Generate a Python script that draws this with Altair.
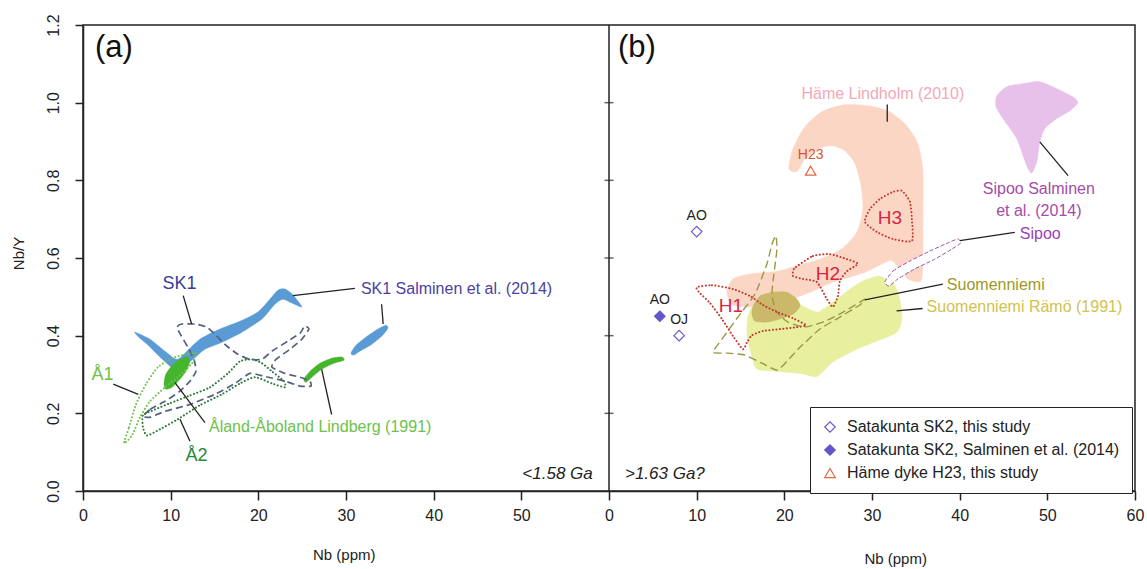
import altair as alt
import pandas as pd

FONT = "Liberation Sans"
PANEL_B = 60  # panel (b) sits right of panel (a) on one shared 0-120 Nb axis

# ---------------- Panel (a): <1.58 Ga ----------------
sk1_sal_main_x = [5.93, 7.64, 9.35, 10.72, 11.86, 13.34, 15.62, 17.90, 19.95, 21.32, 22.23, 23.03, 23.95,
                  24.97, 23.83, 22.81, 21.89, 20.41, 18.13, 15.85, 13.91, 12.54, 11.06, 10.15, 8.78, 7.41, 6.27]
sk1_sal_main_y = [0.409, 0.391, 0.360, 0.339, 0.360, 0.391, 0.417, 0.437, 0.461, 0.494, 0.517, 0.520, 0.505,
                  0.474, 0.484, 0.494, 0.481, 0.443, 0.409, 0.383, 0.365, 0.339, 0.316, 0.318, 0.345, 0.376, 0.398]
sk1_sal_small_x = [30.56, 31.13, 32.27, 33.64, 34.55, 34.78, 34.09, 32.95, 31.58, 30.90]
sk1_sal_small_y = [0.355, 0.375, 0.396, 0.417, 0.427, 0.419, 0.399, 0.378, 0.360, 0.350]
lind_1_x = [9.24, 9.46, 10.26, 11.06, 11.86, 12.20, 11.74, 10.95, 10.15, 9.46]
lind_1_y = [0.275, 0.301, 0.326, 0.339, 0.345, 0.334, 0.308, 0.285, 0.267, 0.262]
lind_2_x = [25.20, 25.88, 27.02, 28.39, 29.53, 29.76, 28.62, 27.25, 26.11, 25.43]
lind_2_y = [0.288, 0.308, 0.329, 0.342, 0.345, 0.337, 0.329, 0.314, 0.293, 0.280]
sk1_x = [6.84, 7.64, 9.35, 11.06, 12.20, 12.88, 12.66, 11.97, 11.17, 10.72, 11.29, 12.77, 14.14, 15.17, 16.31,
         17.67, 19.04, 20.41, 21.55, 23.38, 24.74, 25.31, 25.77, 24.97, 23.60, 22.01, 21.55, 23.03, 24.74, 25.88,
         26.00, 24.74, 23.03, 20.75, 19.04, 17.33, 15.05, 12.20, 9.35, 7.64]
sk1_y = [0.192, 0.210, 0.231, 0.257, 0.283, 0.308, 0.339, 0.370, 0.401, 0.422, 0.430, 0.430, 0.422, 0.401, 0.375,
         0.352, 0.339, 0.339, 0.360, 0.386, 0.406, 0.425, 0.417, 0.391, 0.365, 0.339, 0.319, 0.303, 0.293, 0.283,
         0.270, 0.270, 0.283, 0.295, 0.303, 0.277, 0.249, 0.223, 0.205, 0.190]
a1_x = [4.68, 5.25, 6.04, 7.18, 8.55, 10.15, 11.74, 12.88, 12.43, 11.06, 9.35, 7.64, 6.50, 5.59]
a1_y = [0.123, 0.164, 0.223, 0.275, 0.319, 0.342, 0.352, 0.355, 0.329, 0.298, 0.267, 0.231, 0.190, 0.143]
a2_x = [6.84, 8.21, 9.92, 12.20, 14.48, 16.53, 17.90, 19.27, 20.41, 21.55, 22.92, 23.03, 21.55, 19.61, 17.90,
        15.85, 13.34, 10.83, 8.78, 7.30, 6.84]
a2_y = [0.195, 0.210, 0.226, 0.246, 0.267, 0.303, 0.334, 0.339, 0.329, 0.308, 0.283, 0.267, 0.277, 0.293, 0.277,
        0.249, 0.221, 0.185, 0.159, 0.143, 0.164]

# ---------------- Panel (b): >1.63 Ga? ----------------
hame_x = [20.52, 20.98, 22.35, 24.29, 26.91, 29.53, 31.81, 33.87, 35.23, 35.80, 35.80, 35.80, 35.58, 34.09, 32.38,
          31.36, 29.30, 27.02, 25.20, 23.49, 21.44, 18.59, 15.85, 13.91, 13.45, 14.14, 16.08, 19.16, 21.78, 24.40,
          26.68, 28.28, 28.96, 28.73, 28.05, 26.91, 25.43, 23.83, 22.35, 21.44]
hame_y = [0.830, 0.881, 0.938, 0.977, 0.995, 0.992, 0.979, 0.943, 0.894, 0.825, 0.701, 0.592, 0.541, 0.546, 0.592,
          0.587, 0.564, 0.548, 0.535, 0.517, 0.499, 0.481, 0.474, 0.481, 0.515, 0.546, 0.559, 0.566, 0.582, 0.600,
          0.626, 0.667, 0.726, 0.788, 0.843, 0.876, 0.889, 0.881, 0.855, 0.823]
ramo_x = [15.85, 15.74, 16.31, 16.88, 19.16, 21.78, 23.72, 25.54, 28.28, 30.56, 32.84, 33.41, 33.18, 32.38, 31.13,
          30.56, 28.96, 27.48, 26.00, 24.40, 23.72, 22.12, 20.64, 19.16, 17.56, 16.42]
ramo_y = [0.450, 0.399, 0.347, 0.314, 0.308, 0.303, 0.295, 0.332, 0.365, 0.386, 0.409, 0.443, 0.494, 0.538, 0.551,
          0.553, 0.541, 0.520, 0.494, 0.468, 0.461, 0.476, 0.499, 0.512, 0.502, 0.476]
overlap_x = [16.42, 17.22, 18.70, 20.30, 21.44, 21.78, 20.98, 19.50, 18.02, 16.65, 16.31]
overlap_y = [0.476, 0.502, 0.512, 0.512, 0.494, 0.476, 0.455, 0.443, 0.435, 0.437, 0.455]
sipoo_sal_x = [44.24, 45.38, 47.21, 49.14, 51.08, 52.91, 53.48, 52.57, 51.08, 49.71, 49.14, 48.80, 48.23, 47.66,
               46.52, 44.93, 44.13]
sipoo_sal_y = [1.018, 1.041, 1.049, 1.054, 1.036, 1.015, 1.000, 0.979, 0.959, 0.933, 0.899, 0.848, 0.819, 0.837,
               0.907, 0.959, 0.990]
sipoo_x = [31.47, 32.38, 34.32, 36.60, 38.88, 39.79, 40.14, 39.11, 37.17, 34.89, 32.95, 31.93]
sipoo_y = [0.538, 0.566, 0.592, 0.618, 0.641, 0.649, 0.639, 0.623, 0.597, 0.572, 0.546, 0.528]
suom_x = [11.86, 12.88, 14.71, 16.65, 18.02, 18.59, 19.04, 19.16, 18.81, 18.59, 19.04, 20.41, 22.35, 24.63, 26.91,
          29.19, 28.62, 26.34, 24.06, 21.78, 20.30, 19.16, 17.45, 15.51, 13.57]
suom_y = [0.357, 0.391, 0.448, 0.507, 0.585, 0.636, 0.657, 0.623, 0.559, 0.507, 0.463, 0.435, 0.422, 0.437, 0.463,
          0.494, 0.479, 0.448, 0.417, 0.370, 0.334, 0.311, 0.329, 0.350, 0.355]
h1_x = [10.03, 11.74, 14.14, 16.08, 17.56, 19.16, 20.98, 22.46, 21.44, 19.50, 17.56, 16.31, 15.74, 15.28, 14.14,
        12.88, 11.52, 10.26]
h1_y = [0.525, 0.530, 0.520, 0.502, 0.479, 0.461, 0.445, 0.427, 0.422, 0.417, 0.412, 0.401, 0.383, 0.365, 0.399,
        0.443, 0.484, 0.512]
h2_x = [21.44, 23.26, 25.20, 27.14, 28.39, 27.14, 26.34, 26.11, 25.54, 24.86, 23.72, 22.12, 20.98, 21.09]
h2_y = [0.579, 0.605, 0.610, 0.597, 0.585, 0.566, 0.541, 0.502, 0.474, 0.494, 0.538, 0.546, 0.554, 0.572]
h3_x = [33.41, 34.32, 34.55, 34.55, 32.38, 30.56, 29.19, 29.76, 30.90, 32.38]
h3_y = [0.773, 0.745, 0.701, 0.644, 0.649, 0.667, 0.693, 0.726, 0.752, 0.770]

# samples (panel b)
pt_series = ["Satakunta SK2, this study", "Satakunta SK2, this study",
             "Satakunta SK2, Salminen et al. (2014)", "Häme dyke H23, this study"]
pt_x = [10.0, 8.0, 5.8, 23.0]
pt_y = [0.668, 0.400, 0.450, 0.825]
pt_label = ["AO", "OJ", "AO", "H23"]
pt_label_color = ["#222222", "#222222", "#222222", "#d9562f"]
legend_order = ["Satakunta SK2, this study", "Satakunta SK2, Salminen et al. (2014)", "Häme dyke H23, this study"]

# leader lines
lead_x1 = [11.43, 23.95, 34.06, 3.45, 12.20, 13.91, 27.22, 31.74, 49.14, 40.02, 29.19, 32.80]
lead_y1 = [0.503, 0.503, 0.481, 0.275, 0.128, 0.176, 0.314, 0.995, 0.899, 0.645, 0.492, 0.464]
lead_x2 = [12.39, 31.01, 34.24, 6.31, 11.06, 10.49, 28.36, 31.74, 52.37, 46.29, 38.08, 35.77]
lead_y2 = [0.430, 0.522, 0.430, 0.249, 0.185, 0.279, 0.197, 0.951, 0.812, 0.666, 0.533, 0.470]
lead_panel = ["a", "a", "a", "a", "a", "a", "a", "b", "b", "b", "b", "b"]

# text annotations
ann_text = ["SK1", "SK1 Salminen et al. (2014)", "Å1", "Å2", "Åland-Åboland Lindberg (1991)", "(a)",
            "Häme Lindholm (2010)", "H1", "H2", "H3", "Sipoo Salminen", "et al. (2014)", "Sipoo",
            "Suomenniemi", "Suomenniemi Rämö (1991)", "(b)"]
ann_x = [11.0, 31.7, 2.22, 12.94, 14.37, 1.37, 31.24, 13.91, 24.97, 32.04, 49.03, 49.03, 46.86, 38.54, 36.23, 1.03]
ann_y = [0.533, 0.520, 0.299, 0.090, 0.164, 1.142, 1.023, 0.476, 0.559, 0.703, 0.778, 0.721, 0.662, 0.530, 0.473, 1.142]
ann_panel = ["a", "a", "a", "a", "a", "a", "b", "b", "b", "b", "b", "b", "b", "b", "b", "b"]
ann_color = ["#3d3a99", "#4b42a0", "#6cc24a", "#1e8a3c", "#6cc24a", "#111111", "#f4a9b8", "#d7263d", "#d7263d",
             "#d7263d", "#a54ca6", "#a54ca6", "#9b3fb5", "#9c9a22", "#d2c24e", "#111111"]
ann_size = [18, 16, 18, 18, 16, 31, 16, 19, 19, 19, 16, 16, 16, 16, 16, 31]
ann_align = ["center", "left", "center", "center", "left", "left", "center", "center", "center", "center",
             "center", "center", "left", "left", "left", "left"]

age_text = ["<1.58 Ga", ">1.63 Ga?"]
age_x = [58.15, 1.82]
age_y = [0.045, 0.045]
age_panel = ["a", "b"]
age_align = ["right", "left"]

xtitle_x = [29.8, 32.7]
xtitle_y = [-0.166, -0.176]
xtitle_panel = ["a", "b"]

y_ticks = [0.0, 0.2, 0.4, 0.6, 0.8, 1.0, 1.2]
mid_ticks = [0.2, 0.4, 0.6, 0.8, 1.0]
divider_x = [PANEL_B]
divider_y = [0.0]
divider_y2 = [1.2]

# ---------------- scales / axes ----------------
xscale = alt.Scale(domain=[0, 120], nice=False, zero=False)
yscale = alt.Scale(domain=[0, 1.2], nice=False, zero=False)
xaxis = alt.Axis(values=list(range(0, 121, 10)), labelExpr="datum.value >= 60 ? datum.value - 60 : datum.value",
                 title=None, grid=False, tickSize=9, tickWidth=1.5, tickColor="#222", domainColor="#222",
                 domainWidth=1.5, labelFontSize=16, labelFont=FONT, labelColor="#222", labelPadding=7,
                 labelFlush=False, labelOverlap=False)
yaxis = alt.Axis(values=y_ticks, format=".1f", title="Nb/Y", grid=False, tickSize=8, tickWidth=1.5,
                 tickColor="#222", domainColor="#222", domainWidth=1.5, labelFontSize=16, labelFont=FONT,
                 labelColor="#222", labelAngle=-90, labelAlign="center", labelBaseline="alphabetic",
                 labelPadding=17, labelFlush=False, labelOverlap=False, titleFont=FONT, titleFontSize=15,
                 titleFontWeight="normal", titleColor="#222", titleAngle=-90, titleAlign="center",
                 titleBaseline="alphabetic", titleX=-60, titleY=228)


def X(f="x"):
    return alt.X(f"{f}:Q", scale=xscale, axis=xaxis)


def Y(f="y"):
    return alt.Y(f"{f}:Q", scale=yscale, axis=yaxis)


def off(panel):
    return PANEL_B if panel == "b" else 0


def poly(xs, ys, panel, **mark):
    df = pd.DataFrame({"x": [v + off(panel) for v in xs], "y": ys, "i": list(range(len(xs)))})
    return alt.Chart(df).mark_line(**mark).encode(x=X(), y=Y(), order=alt.Order("i:Q"))


def filled(xs, ys, panel, color, tension=0.3):
    return poly(xs, ys, panel, interpolate="cardinal-closed", tension=tension, fill=color, stroke=color,
                strokeWidth=0.5)


def dotted(xs, ys, panel, color, tension=0.4):
    return poly(xs, ys, panel, interpolate="cardinal-closed", tension=tension, stroke=color, strokeWidth=2,
                strokeDash=[0.1, 3.4], strokeCap="round")


def dashed(xs, ys, panel, color, dash=(7, 4), width=1.7, tension=0.4, fill=None):
    kw = dict(interpolate="cardinal-closed", tension=tension, stroke=color, strokeWidth=width,
              strokeDash=list(dash))
    if fill is not None:
        kw["fill"] = fill
    return poly(xs, ys, panel, **kw)


layers = []
# panel (b) fields
layers.append(filled(hame_x, hame_y, "b", "#fcd6c5"))
layers.append(filled(ramo_x, ramo_y, "b", "#e8f0a0"))
layers.append(filled(overlap_x, overlap_y, "b", "#cbb869"))
layers.append(filled(sipoo_sal_x, sipoo_sal_y, "b", "#e8c1ea"))
layers.append(dashed(sipoo_x, sipoo_y, "b", "#9b50b5", dash=(4, 2), width=1.0, fill="#ffffff"))
layers.append(dashed(suom_x, suom_y, "b", "#9a9845", dash=(8, 4), width=1.4, tension=0.5))
layers.append(dotted(h1_x, h1_y, "b", "#c43a32"))
layers.append(dotted(h2_x, h2_y, "b", "#c43a32"))
layers.append(dotted(h3_x, h3_y, "b", "#c43a32"))
# panel (a) fields
layers.append(filled(sk1_sal_main_x, sk1_sal_main_y, "a", "#5b9bd5"))
layers.append(filled(sk1_sal_small_x, sk1_sal_small_y, "a", "#5b9bd5"))
layers.append(filled(lind_1_x, lind_1_y, "a", "#45b52e"))
layers.append(filled(lind_2_x, lind_2_y, "a", "#45b52e"))
layers.append(dashed(sk1_x, sk1_y, "a", "#56617f", tension=0.5))
layers.append(dotted(a1_x, a1_y, "a", "#6cc24a"))
layers.append(dotted(a2_x, a2_y, "a", "#2a7a3a"))

# leader lines
lead_df = pd.DataFrame({
    "x": [v + off(p) for v, p in zip(lead_x1, lead_panel)],
    "y": lead_y1,
    "x2": [v + off(p) for v, p in zip(lead_x2, lead_panel)],
    "y2": lead_y2,
})
layers.append(alt.Chart(lead_df).mark_rule(color="#222", strokeWidth=1.3).encode(
    x=X(), y=Y(), x2="x2:Q", y2="y2:Q"))

# border between the two panels, with panel (b) ticks
div_df = pd.DataFrame({"x": divider_x, "y": divider_y, "y2": divider_y2})
layers.append(alt.Chart(div_df).mark_rule(color="#222", strokeWidth=1.5).encode(x=X(), y=Y(), y2="y2:Q"))
mid_df = pd.DataFrame({"x": [PANEL_B] * len(mid_ticks), "y": mid_ticks})
layers.append(alt.Chart(mid_df).mark_tick(orient="horizontal", size=9, thickness=1.5, color="#222").encode(
    x=X(), y=Y()))

# annotations
for t, x, y, p, c, s, a in zip(ann_text, ann_x, ann_y, ann_panel, ann_color, ann_size, ann_align):
    df = pd.DataFrame({"x": [x + off(p)], "y": [y], "t": [t]})
    layers.append(alt.Chart(df).mark_text(align=a, baseline="middle", font=FONT, fontSize=s, color=c).encode(
        x=X(), y=Y(), text="t:N"))
for t, x, y, p, a in zip(age_text, age_x, age_y, age_panel, age_align):
    df = pd.DataFrame({"x": [x + off(p)], "y": [y], "t": [t]})
    layers.append(alt.Chart(df).mark_text(align=a, baseline="middle", font=FONT, fontSize=17,
                                          fontStyle="italic", color="#222").encode(x=X(), y=Y(), text="t:N"))
for x, y, p in zip(xtitle_x, xtitle_y, xtitle_panel):
    df = pd.DataFrame({"x": [x + off(p)], "y": [y], "t": ["Nb (ppm)"]})
    layers.append(alt.Chart(df).mark_text(align="center", baseline="middle", font=FONT, fontSize=15,
                                          color="#222").encode(x=X(), y=Y(), text="t:N"))

# sample points + legend
pt_df = pd.DataFrame({"x": [v + PANEL_B for v in pt_x], "y": pt_y, "series": pt_series,
                      "label": pt_label, "lc": pt_label_color})
leg = alt.Legend(orient="none", legendX=727, legendY=382, title=None, strokeColor="#222", fillColor="#ffffff",
                 padding=12, rowPadding=7, labelFont=FONT, labelFontSize=16, labelColor="#222", labelOffset=9,
                 symbolSize=110, symbolStrokeWidth=1.2, labelLimit=400)
layers.append(alt.Chart(pt_df).mark_point(size=110, strokeWidth=1.2, opacity=1).encode(
    x=X(), y=Y(),
    shape=alt.Shape("series:N", scale=alt.Scale(domain=legend_order, range=["diamond", "diamond", "triangle-up"]),
                    legend=leg),
    stroke=alt.Stroke("series:N", scale=alt.Scale(domain=legend_order, range=["#6a5acd", "#6456c8", "#e06a3e"]),
                      legend=leg),
    fill=alt.Fill("series:N", scale=alt.Scale(domain=legend_order, range=["#ffffff", "#6456c8", "#ffffff"]),
                  legend=leg),
))
layers.append(alt.Chart(pt_df).mark_text(dy=-16, font=FONT, fontSize=14, baseline="middle").encode(
    x=X(), y=Y(), text="label:N", color=alt.Color("lc:N", scale=None)))

chart = alt.layer(*layers).properties(
    width=1052, height=466,
    autosize=alt.AutoSizeParams(type="none"),
    padding={"left": 83, "top": 25, "right": 12, "bottom": 78},
    background="#ffffff",
).configure_view(stroke="#222", strokeWidth=1.5)

chart.save("out.html", embed_options={"renderer": "svg", "actions": False})
